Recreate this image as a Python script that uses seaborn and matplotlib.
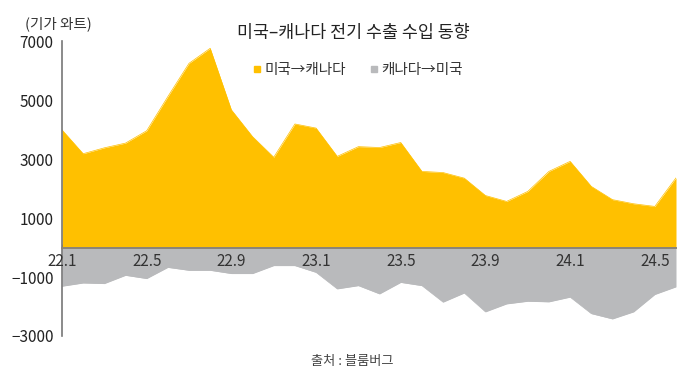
import matplotlib
matplotlib.use("Agg")
import matplotlib.pyplot as plt
import seaborn as sns
import pandas as pd
from matplotlib.lines import Line2D

months = ["22.1","22.2","22.3","22.4","22.5","22.6","22.7","22.8","22.9","22.10","22.11","22.12",
          "23.1","23.2","23.3","23.4","23.5","23.6","23.7","23.8","23.9","23.10","23.11","23.12",
          "24.1","24.2","24.3","24.4","24.5","24.6"]
us_to_ca = [4000, 3190, 3390, 3550, 3970, 5130, 6260, 6770, 4680, 3770, 3070, 4200,
            4060, 3100, 3430, 3400, 3570, 2590, 2550, 2360, 1770, 1570, 1910, 2590,
            2930, 2080, 1630, 1490, 1400, 2370]
ca_to_us = [-1310, -1200, -1220, -940, -1050, -670, -770, -770, -880, -880, -610, -610,
            -840, -1400, -1290, -1570, -1180, -1290, -1850, -1540, -2180, -1910, -1820, -1840,
            -1680, -2240, -2420, -2180, -1590, -1330]
tick_labels = ["22.1", "22.5", "22.9", "23.1", "23.5", "23.9", "24.1", "24.5"]
yticks = [7000, 5000, 3000, 1000, -1000, -3000]
series_names = ["미국→캐나다", "캐나다→미국"]

sns.set_style("white")
plt.rcParams['font.family'] = ['Noto Sans CJK KR', 'DejaVu Sans']

YELLOW = "#FFC000"
GRAY = "#B9BABC"

df = pd.DataFrame({"idx": range(len(months)), "month": months,
                   "us": us_to_ca, "ca": ca_to_us})

fig = plt.figure(figsize=(6.86, 3.78), dpi=100)
ax = fig.add_axes([62/686, 1-336/378, (676-62)/686, (336-41.5)/378])

sns.lineplot(data=df, x="idx", y="us", ax=ax, color=YELLOW, linewidth=0.5)
sns.lineplot(data=df, x="idx", y="ca", ax=ax, color=GRAY, linewidth=0.5)
ax.fill_between(df["idx"], 0, df["us"], color=YELLOW, linewidth=0)
ax.fill_between(df["idx"], 0, df["ca"], color=GRAY, linewidth=0)

ax.set_xlim(0, len(months) - 1)
ax.set_ylim(-3000, 7000)
ax.set_yticks(yticks)
ax.set_yticklabels([str(v) if v >= 0 else "\u2212" + str(-v) for v in yticks],
                   fontsize=11, color="#222222")
tick_pos = [months.index(t) for t in tick_labels]
ax.set_xticks(tick_pos)
ax.set_xticklabels([])
for p, t in zip(tick_pos, tick_labels):
    ax.text(p, -170, t, ha="center", va="top", fontsize=11, color="#333333")
ax.tick_params(axis="y", direction="in", length=3, color="#777777", pad=6)
ax.set_xlabel("")
ax.set_ylabel("")

for s in ["top", "right"]:
    ax.spines[s].set_visible(False)
ax.spines["left"].set_color("#777777")
ax.spines["left"].set_linewidth(1.2)
ax.spines["bottom"].set_position(("data", 0))
ax.spines["bottom"].set_color("#8a8478")
ax.spines["bottom"].set_linewidth(1.4)
ax.spines["bottom"].set_zorder(3)
ax.xaxis.set_ticks_position("bottom")
ax.tick_params(axis="x", direction="in", length=3, color="#8a8478")

fig.text(353/686, 1-33/378, "미국–캐나다 전기 수출 수입 동향", ha="center", va="center",
         fontsize=12.5, color="#222222")
fig.text(25/686, 1-24/378, "(기가 와트)", ha="left", va="center", fontsize=10.5, color="#333333")
fig.text(352/686, 1-362/378, "출처 : 블룸버그", ha="center", va="center", fontsize=9.5, color="#444444")

handles = [Line2D([], [], marker="s", linestyle="", color=YELLOW, markersize=5),
           Line2D([], [], marker="s", linestyle="", color=GRAY, markersize=5)]
leg = fig.legend(handles, series_names, loc="center", bbox_to_anchor=(357/686, 1-70/378),
                 ncol=2, frameon=False, fontsize=10.5, handletextpad=0.1, columnspacing=1.5,
                 handlelength=0.8)
for t in leg.get_texts():
    t.set_color("#333333")

fig.savefig("out.png", dpi=100)
